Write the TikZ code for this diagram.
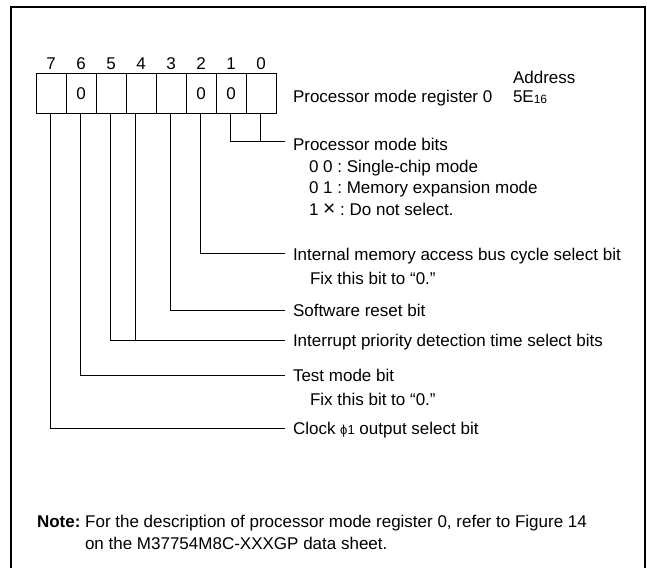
\documentclass[tikz,border=0pt]{standalone}
\usepackage{fontspec}
\setmainfont{Liberation Sans}
\frenchspacing
\begin{document}
\begin{tikzpicture}[x=1bp,y=-1bp,line width=0.8bp,
  txt/.style={inner sep=0pt,outer sep=0pt,font=\fontsize{17bp}{21bp}\selectfont},
  lbl/.style={txt,anchor=base west},
  num/.style={txt,anchor=base},
  cell/.style={draw,line width=1bp,minimum width=30bp,minimum height=40bp,inner sep=0pt,outer sep=0pt,font=\fontsize{17bp}{21bp}\selectfont},
  frame/.style={line width=1.6bp},
  conn/.style={line width=0.8bp}]
\useasboundingbox (0,0) rectangle (647,568);
\draw[frame] (11,572) -- (11,7) -- (645,7) -- (645,572);
% register cells
\foreach \b in {0,...,7}{
  \node[cell] (c\b) at ({261-30*\b},94) {};
  \node[num] (n\b) at ({261-30*\b},70) {\b};
}
\node[txt] (v6) at (c6) {0};
\node[txt] (v2) at (c2) {0};
\node[txt] (v1) at (c1) {0};
\node[lbl] (reg) at (293,103) {Processor mode register 0};
\node[lbl] (addr) at (513,84) {Address};
\node[lbl] (adv) at (513,103) {5E\raisebox{-1bp}{\fontsize{12bp}{12bp}\selectfont 16}};
% labels
\node[lbl] (pm) at (293,151) {Processor mode bits};
\node[lbl] (pm0) at (309,172.5) {0 0 : Single-chip mode};
\node[lbl] (pm1) at (309,194) {0 1 : Memory expansion mode};
\node[lbl] (pm2) at (309,215.5) {1 \raisebox{0.3bp}{\fontsize{21bp}{21bp}\selectfont ×} : Do not select.};
\node[lbl] (im) at (293,260) {Internal memory access bus cycle select bit};
\node[lbl] (imf) at (310,284) {Fix this bit to “0.”};
\node[lbl] (sr) at (293,316) {Software reset bit};
\node[lbl] (ip) at (293,346) {Interrupt priority detection time select bits};
\node[lbl] (tm) at (293,381) {Test mode bit};
\node[lbl] (tmf) at (310,405) {Fix this bit to “0.”};
\node[lbl] (ck) at (293,434) {Clock {\fontsize{13bp}{13bp}\selectfont ϕ1} output select bit};
\node[lbl] (note) at (37,527) {\textbf{Note:} For the description of processor mode register 0, refer to Figure 14};
\node[lbl] (note2) at (85,549) {on the M37754M8C-XXXGP data sheet.};
% connector ends
\coordinate (e01) at (285,141);
\coordinate (e2) at (285,253);
\coordinate (e3) at (285,310);
\coordinate (e45) at (285,340);
\coordinate (e6) at (285,375);
\coordinate (e7) at (285,428);
\draw[conn] ([xshift=-1bp]c1.south) |- (e01);
\draw[conn] ([xshift=-1bp]c0.south) -- ([xshift=-1bp]c0.south |- e01);
\draw[conn] ([xshift=-1bp]c2.south) |- (e2);
\draw[conn] ([xshift=-1bp]c3.south) |- (e3);
\draw[conn] ([xshift=-6bp]c4.south) |- (e45);
\draw[conn] ([xshift=-1bp]c5.south) |- (e45);
\draw[conn] ([xshift=-1bp]c6.south) |- (e6);
\draw[conn] ([xshift=-1bp]c7.south) |- (e7);
\end{tikzpicture}
\end{document}
